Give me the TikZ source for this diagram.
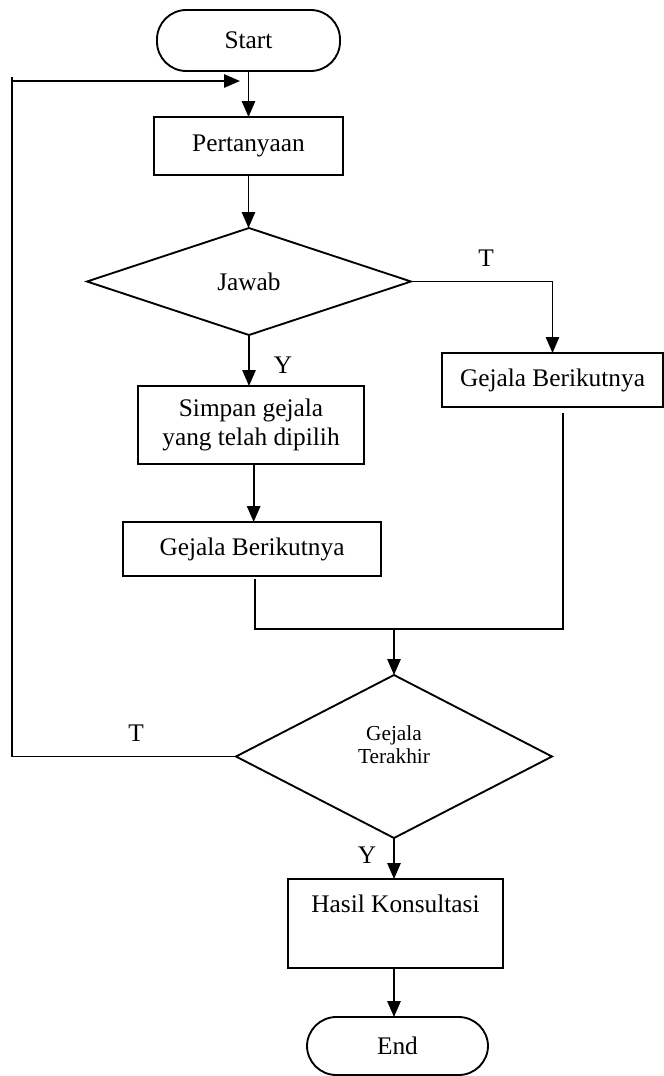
\documentclass[tikz,border=0pt]{standalone}
\usepackage{fontspec}
\setmainfont{Liberation Serif}
\usetikzlibrary{arrows.meta,shapes.geometric}
\tikzset{
  base/.style={draw=black, line width=1.4pt, inner sep=0pt, outer sep=0pt, align=center,
    font=\fontsize{19}{21.5}\selectfont},
  term/.style={base, rounded corners=22pt},
  procbox/.style={base},
  decision/.style={base, shape=diamond},
  conn/.style={line width=1.4pt},
  arr/.style={conn, -{Triangle[length=12pt,width=10pt]}},
  lbl/.style={font=\fontsize{19}{21.5}\selectfont, inner sep=0pt}
}
\begin{document}
\begin{tikzpicture}[x=0.75pt,y=-0.75pt]
\useasboundingbox (0,0) rectangle (664,1076);

\node[term, minimum width=183*0.75pt, minimum height=61*0.75pt] (start) at (248.5,40.5) {Start};
\node[procbox, minimum width=189*0.75pt, minimum height=58*0.75pt] (pert) at (248.5,146) {Pertanyaan};
\node[decision, minimum width=324*0.75pt, minimum height=107*0.75pt] (jawab) at (249,281.5) {Jawab};
\node[procbox, minimum width=221*0.75pt, minimum height=54*0.75pt] (gbr) at (552.5,380) {Gejala Berikutnya};
\node[procbox, minimum width=226*0.75pt, minimum height=78*0.75pt] (simpan) at (251,425) {Simpan gejala\\yang telah dipilih};
\node[procbox, minimum width=258*0.75pt, minimum height=54*0.75pt] (gbl) at (252,549) {Gejala Berikutnya};
\node[decision, minimum width=316*0.75pt, minimum height=163*0.75pt, align=none,
      font=\fontsize{16}{17.5}\selectfont, text height=10pt, text depth=15pt] (akhir) at (394,756.5)
      {\begin{tabular}{@{}c@{}}Gejala\\Terakhir\end{tabular}};
\node[procbox, minimum width=215*0.75pt, minimum height=89*0.75pt,
      text height=13pt, text depth=28.8pt] (hasil) at (395.5,923.5) {Hasil Konsultasi};
\node[term, minimum width=181*0.75pt, minimum height=58*0.75pt] (end) at (397.5,1046) {End};

% connectors
\coordinate (loopend) at (240,81);
\coordinate (loopstart) at (12,81);
\coordinate (looptop) at (12,77);
\coordinate (loopcorner) at (12,756.5);
\draw[arr] (start.south) -- (start.south |- pert.north);
\draw[conn] (akhir.west) -- (loopcorner) -- (looptop);
\draw[arr] (loopstart) -- (loopend);
\draw[arr] (pert.south) -- (pert.south |- jawab.north);
\draw[arr] (jawab.east) -| (gbr.north);
\draw[arr] (jawab.south) -- (jawab.south |- simpan.north);
\draw[arr] ([xshift=2]simpan.south) -- ([xshift=2]simpan.south |- gbl.north);

\coordinate (lt) at (255,579);
\coordinate (lb) at (255,629);
\coordinate (rb) at (563,629);
\coordinate (rt) at (563,413);
\coordinate (mid) at (394,629);
\draw[conn] (lt) -- (lb) -- (rb) -- (rt);
\draw[arr] (mid) -- (akhir.north);
\draw[arr] (akhir.south) -- (akhir.south |- hasil.north);
\draw[arr] (akhir.south |- hasil.south) -- (akhir.south |- end.north);

% labels
\node[lbl] (t1) at (486,258) {T};
\node[lbl] (y1) at (283,365) {Y};
\node[lbl] (t2) at (136,733) {T};
\node[lbl] (y2) at (367,855) {Y};
\end{tikzpicture}
\end{document}
